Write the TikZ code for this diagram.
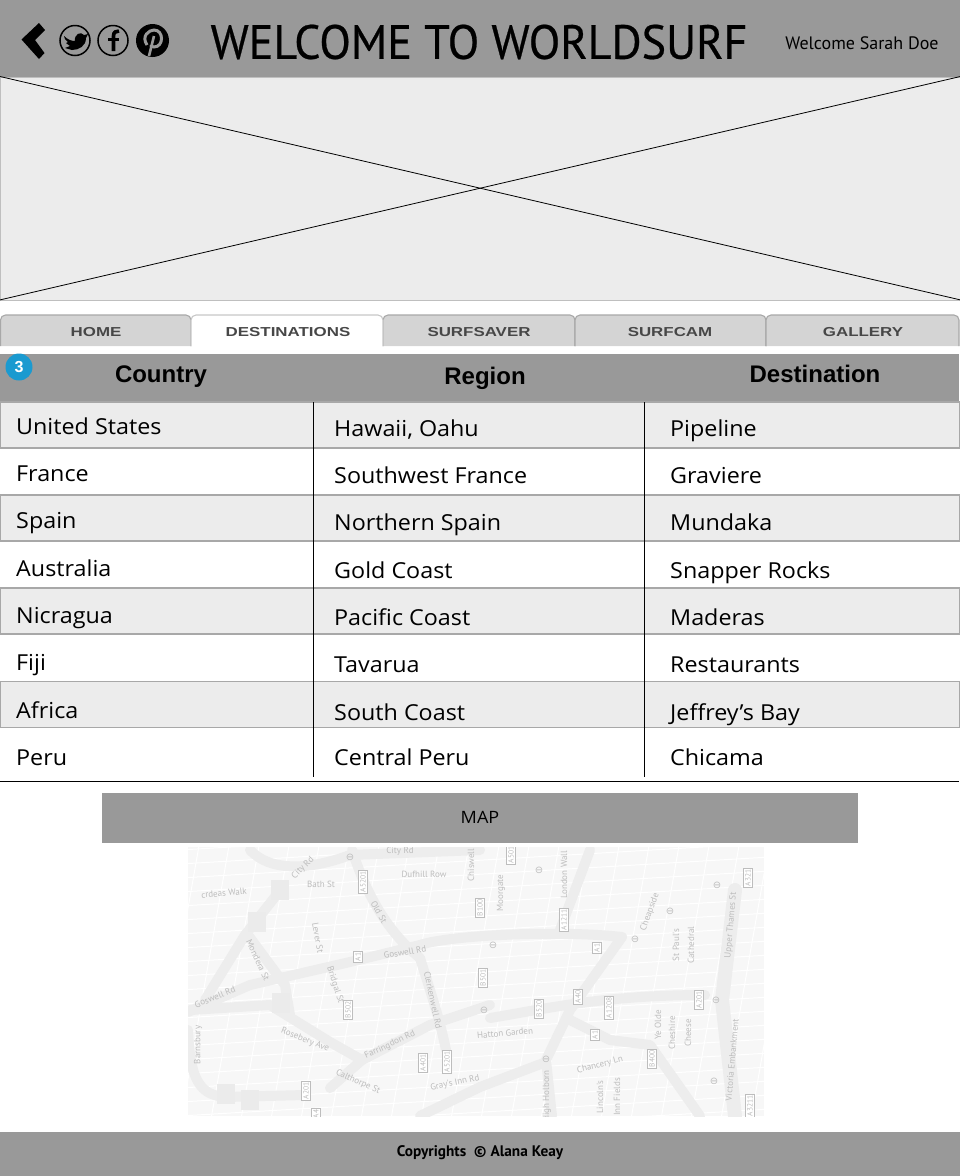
\documentclass[tikz,border=0pt]{standalone}
\usepackage{fontspec}
\setmainfont[FakeStretch=1.06]{Open Sans}
\newfontfamily\titlefont[FakeStretch=.96,FakeBold=.5]{PT Sans}
\newfontfamily\smallfont{PT Sans}
\newfontfamily\headfont{Liberation Sans}
\newfontfamily\tabfont[FakeStretch=1.3]{Liberation Sans}
\newfontfamily\symfont{DejaVu Sans}
\usetikzlibrary{positioning}
\definecolor{bargray}{HTML}{999999}
\definecolor{rowgray}{HTML}{ECECEC}
\definecolor{tabgray}{HTML}{D4D4D4}
\definecolor{edgegray}{HTML}{A8A8A8}
\definecolor{badgeblue}{HTML}{1A9AD0}
\definecolor{mapback}{HTML}{F7F7F7}
\definecolor{maproad}{HTML}{EDEDED}
\definecolor{mapink}{HTML}{BDBDBD}
\tikzset{
  bar/.style={anchor=north west,inner sep=0pt,fill=bargray},
  rowbox/.style={anchor=north west,inner sep=0pt,fill=rowgray,draw=edgegray,line width=1.7pt,minimum width=960pt,minimum height=46pt},
  cell/.style={anchor=base west,inner sep=0pt,font=\fontsize{22}{24}\selectfont},
  headcell/.style={anchor=base,inner sep=0pt,font=\headfont\bfseries\fontsize{24}{26}\selectfont},
  tabshape/.style={fill=tabgray,draw=edgegray,line width=1.1pt},
  tablabel/.style={inner sep=0pt,text=black!72,font=\tabfont\bfseries\fontsize{13}{15}\selectfont},
  iconring/.style={circle,draw=black,line width=1.5pt,minimum size=30pt,inner sep=0pt},
  road/.style={draw=maproad,line width=10pt,line cap=round,line join=round},
  lane/.style={draw=white,line width=1pt},
  maptext/.style={inner sep=0pt,text=mapink,font=\smallfont\fontsize{9}{10}\selectfont},
  mapsign/.style={draw=mapink,fill=white,line width=.8pt,inner sep=1.5pt,rotate=90,text=mapink,font=\smallfont\fontsize{7.5}{8}\selectfont},
  mapblock/.style={fill=black!8,minimum width=18pt,minimum height=20pt,inner sep=0pt},
  maptube/.style={inner sep=0pt,text=mapink,font=\symfont\fontsize{10}{10}\selectfont}
}
\begin{document}
\begin{tikzpicture}[x=1pt,y=-1pt]
  \useasboundingbox (0,0) rectangle (960,1176);
  % header
  \node (topbar) at (0,0) [bar,minimum width=960pt,minimum height=76.5pt] {};
  \node (title) at (479,42) [inner sep=0pt,font=\titlefont\fontsize{48}{50}\selectfont] {WELCOME TO WORLDSURF};
  \node (welcome) at (862,43) [inner sep=0pt,font=\smallfont\fontsize{18}{20}\selectfont] {Welcome Sarah Doe};
  \fill (45,30) -- (39,23) -- (21.5,39.5) -- (39,59) -- (44.5,53) -- (35,40) -- cycle;
  \node (twitter) at (75,40.5) [iconring] {};
  \fill (64,36) .. controls (68,40) and (72,41) .. (75,41) .. controls (74,34) and (81,31) .. (84,35) -- (88,34) -- (86,38) .. controls (86,46) and (79,50) .. (72,50) -- (65,48) -- (70,46) -- (66,43) -- (68,42) -- (65,39) -- cycle;
  \node (facebook) at (113,40.5) [iconring] {};
  \draw [line width=3.6pt] (113.5,51) -- (113.5,36) .. controls (113.5,32) and (116,31) .. (119,31);
  \draw [line width=3pt] (108,39) -- (119,39);
  \node (pinterest) at (152.5,40.5) [circle,fill=black,minimum size=33pt,inner sep=0pt] {};
  \draw [bargray,line width=3pt] (147,45) .. controls (141,36) and (149,30) .. (154,30) .. controls (164,30) and (164,47) .. (154,47) .. controls (152,47) and (151,46) .. (150.5,45);
  \draw [bargray,line width=2.6pt] (154,36) -- (149,56);
  % banner
  \node (banner) at (0,76.5) [anchor=north west,inner sep=0pt,fill=rowgray,draw=black!25,minimum width=960pt,minimum height=223pt] {};
  \draw [line width=.8pt] (banner.north west) -- (banner.south east);
  \draw [line width=.8pt] (banner.north east) -- (banner.south west);
  % tabs
  \draw [tabshape] (.5,346) [rounded corners=5pt] -- (.5,315) -- (191,315) [sharp corners] -- (191,346);
  \draw [tabshape] (383,346) [rounded corners=5pt] -- (383,315) -- (575,315) [sharp corners] -- (575,346);
  \draw [tabshape] (575,346) [rounded corners=5pt] -- (575,315) -- (766,315) [sharp corners] -- (766,346);
  \draw [tabshape] (766,346) [rounded corners=5pt] -- (766,315) -- (959,315) [sharp corners] -- (959,346);
  \draw [tabshape,fill=white,draw=black!22] (191,346) [rounded corners=5pt] -- (191,315) -- (383,315) [sharp corners] -- (383,346);
  \node (home) at (96,332) [tablabel] {HOME};
  \node (destinations) at (288,332) [tablabel] {DESTINATIONS};
  \node (surfsaver) at (479,332) [tablabel] {SURFSAVER};
  \node (surfcam) at (670,332) [tablabel] {SURFCAM};
  \node (gallery) at (863,332) [tablabel] {GALLERY};
  % table
  \node (tablehead) at (0,354) [bar,minimum width=959pt,minimum height=48pt] {};
  \node (badge) at (19,367) [circle,fill=badgeblue,minimum size=27pt,inner sep=0pt,text=white,font=\headfont\bfseries\fontsize{16}{16}\selectfont] {3};
  \node (country) at (161,382) [headcell] {Country};
  \node (region) at (485,384) [headcell] {Region};
  \node (destination) at (815,382) [headcell] {Destination};
  \node (rowa) at (-1,401) [rowbox] {};
  \node (rowb) at (-1,494) [rowbox] {};
  \node (rowc) at (-1,587) [rowbox] {};
  \node (rowd) at (-1,680.5) [rowbox] {};
  \coordinate (splita) at (313,402);
  \coordinate (splitb) at (644,402);
  \coordinate (splitc) at (313,777);
  \coordinate (splitd) at (644,777);
  \draw [line width=1pt] (splita) -- (splitc);
  \draw [line width=1pt] (splitb) -- (splitd);
  \coordinate (rulea) at (0,781.5);
  \coordinate (ruleb) at (959,781.5);
  \draw [line width=1pt] (rulea) -- (ruleb);
  \node (c1) at (16,434) [cell] {United States};
  \node (c2) at (16,481) [cell] {France};
  \node (c3) at (16,528) [cell] {Spain};
  \node (c4) at (16,576) [cell] {Australia};
  \node (c5) at (16,623) [cell] {Nicragua};
  \node (c6) at (16,670) [cell] {Fiji};
  \node (c7) at (16,718) [cell] {Africa};
  \node (c8) at (16,765) [cell] {Peru};
  \node (r1) at (334,436) [cell] {Hawaii, Oahu};
  \node (r2) at (334,483) [cell] {Southwest France};
  \node (r3) at (334,530) [cell] {Northern Spain};
  \node (r4) at (334,578) [cell] {Gold Coast};
  \node (r5) at (334,625) [cell] {Pacific Coast};
  \node (r6) at (334,672) [cell] {Tavarua};
  \node (r7) at (334,720) [cell] {South Coast};
  \node (r8) at (334,765) [cell] {Central Peru};
  \node (d1) at (670,436) [cell] {Pipeline};
  \node (d2) at (670,483) [cell] {Graviere};
  \node (d3) at (670,530) [cell] {Mundaka};
  \node (d4) at (670,578) [cell] {Snapper Rocks};
  \node (d5) at (670,625) [cell] {Maderas};
  \node (d6) at (670,672) [cell] {Restaurants};
  \node (d7) at (670,720) [cell] {Jeffrey's Bay};
  \node (d8) at (670,765) [cell] {Chicama};
  % map
  \node (mapbar) at (102,793) [bar,minimum width=755.5pt,minimum height=49.5pt] {};
  \node (maptitle) at (480,817) [inner sep=0pt,font=\fontsize{17}{19}\selectfont] {MAP};
  \begin{scope}
    \clip (188,847) rectangle (764,1116);
    \fill [mapback] (188,847) rectangle (764,1116);
    \foreach \k in {0,...,22} {
      \draw [lane] (170+\k*30,840) -- (120+\k*30,1125);
      \draw [lane] (180,850+\k*14) -- (770,815+\k*14);
    }
    \draw [road] (250,850) .. controls (270,872) and (310,870) .. (350,855) -- (480,850);
    \draw [road] (352,850) .. controls (365,890) and (385,930) .. (420,958) .. controls (430,990) and (440,1020) .. (446,1050);
    \draw [road] (188,1012) -- (250,985) -- (350,962) -- (420,945) .. controls (450,935) and (560,930) .. (622,937);
    \draw [road] (190,1010) -- (270,1005) -- (330,1042) -- (362,1060);
    \draw [road] (330,1088) -- (362,1060) -- (430,1025) -- (490,1005);
    \draw [road] (188,1030) .. controls (190,1080) and (200,1095) .. (225,1097) -- (305,1095);
    \draw [road] (282,888) -- (245,935) -- (205,1000);
    \draw [road] (248,935) -- (285,985) -- (290,1015);
    \draw [road] (622,937) -- (570,1010) -- (546,1060) -- (552,1116);
    \draw [road] (490,1018) .. controls (540,1010) and (600,995) .. (705,995);
    \draw [road] (590,850) -- (560,930);
    \draw [road,line width=14pt] (735,890) -- (722,1000) -- (735,1116);
    \draw [road] (570,1020) -- (610,1040) -- (650,1045) -- (700,1116);
    \draw [road] (420,1116) -- (480,1087) -- (546,1062);
    \node (blocka) at (280,890) [mapblock] {};
    \node (blockb) at (257,922) [mapblock] {};
    \node (blockc) at (281,1003) [mapblock] {};
    \node (blockd) at (226,1094) [mapblock] {};
    \node (blocke) at (250,1100) [mapblock] {};
    \node (m1) at (400,851) [maptext] {City Rd};
    \node (m2) at (424,874) [maptext] {Dufhill Row};
    \node (m3) at (321,884) [maptext] {Bath St};
    \node (m4) at (224,893) [maptext,rotate=5] {crdeas Walk};
    \node (m5) at (303,868) [maptext,rotate=45] {City Rd};
    \node (m6) at (379,912) [maptext,rotate=-60] {Old St};
    \node (m7) at (318,938) [maptext,rotate=-80] {Lever St};
    \node (m8) at (405,952) [maptext,rotate=10] {Goswell Rd};
    \node (m9) at (215,997) [maptext,rotate=22] {Goswell Rd};
    \node (m10) at (258,960) [maptext,rotate=-65] {Mondera St};
    \node (m11) at (335,985) [maptext,rotate=-72] {Bridgal St};
    \node (m12) at (305,1040) [maptext,rotate=-22] {Rosebery Ave};
    \node (m13) at (390,1045) [maptext,rotate=25] {Farringdon Rd};
    \node (m14) at (433,1000) [maptext,rotate=-78] {Clerkenwell Rd};
    \node (m15) at (505,1033) [maptext,rotate=5] {Hatton Garden};
    \node (m16) at (198,1045) [maptext,rotate=90] {Barnsbury};
    \node (m17) at (600,1065) [maptext,rotate=15] {Chancery Ln};
    \node (m18) at (455,1083) [maptext,rotate=12] {Gray's Inn Rd};
    \node (m19) at (650,912) [maptext,rotate=70] {Cheapside};
    \node (m20) at (676,945) [maptext,rotate=90] {St Paul's};
    \node (m21) at (691,945) [maptext,rotate=90] {Cathedral};
    \node (m22) at (731,925) [maptext,rotate=85] {Upper Thames St};
    \node (m23) at (732,1060) [maptext,rotate=85] {Victoria Embankment};
    \node (m24) at (658,1025) [maptext,rotate=90] {Ye Olde};
    \node (m25) at (672,1033) [maptext,rotate=90] {Cheshire};
    \node (m26) at (688,1033) [maptext,rotate=90] {Cheese};
    \node (m27) at (501,893) [maptext,rotate=90] {Moorgate};
    \node (m28) at (564,875) [maptext,rotate=90] {London Wall};
    \node (m29) at (600,1097) [maptext,rotate=90] {Lincoln's};
    \node (m30) at (617,1097) [maptext,rotate=90] {Inn Fields};
    \node (m31) at (547,1096) [maptext,rotate=90] {High Holborn};
    \node (m32) at (471,860) [maptext,rotate=90] {Chiswell St};
    \node (m33) at (358,1082) [maptext,rotate=-25] {Calthorpe St};
    \node (s1) at (363,882) [mapsign] {A5201};
    \node (s2) at (358,957) [mapsign] {A1};
    \node (s3) at (348,1010) [mapsign] {B502};
    \node (s4) at (423,1063) [mapsign] {A401};
    \node (s5) at (447,1062) [mapsign] {A5201};
    \node (s6) at (306,1091) [mapsign] {A201};
    \node (s7) at (511,855) [mapsign] {A501};
    \node (s8) at (480,908) [mapsign] {B100};
    \node (s9) at (483,978) [mapsign] {B501};
    \node (s10) at (539,1009) [mapsign] {B520};
    \node (s11) at (578,997) [mapsign] {A40};
    \node (s12) at (609,1008) [mapsign] {A1208};
    \node (s13) at (595,1035) [mapsign] {A1};
    \node (s14) at (652,1059) [mapsign] {B400};
    \node (s15) at (699,1000) [mapsign] {A201};
    \node (s16) at (564,920) [mapsign] {A1211};
    \node (s17) at (597,948) [mapsign] {A1};
    \node (s18) at (748,878) [mapsign] {A321};
    \node (s19) at (750,1106) [mapsign] {A3211};
    \node (s20) at (316,1114) [mapsign] {A4};
    \node (t1) at (350,857) [maptube] {⊖};
    \node (t2) at (539,870) [maptube] {⊖};
    \node (t3) at (493,945) [maptube] {⊖};
    \node (t4) at (484,1010) [maptube] {⊖};
    \node (t5) at (635,939) [maptube] {⊖};
    \node (t6) at (670,911) [maptube] {⊖};
    \node (t7) at (717,885) [maptube] {⊖};
    \node (t8) at (716,1000) [maptube] {⊖};
    \node (t9) at (546,1059) [maptube] {⊖};
    \node (t10) at (714,1081) [maptube] {⊖};
  \end{scope}
  % footer
  \node (footer) at (0,1132) [bar,minimum width=960pt,minimum height=44pt] {};
  \node (copyright) at (480,1153) [inner sep=0pt,font=\smallfont\bfseries\fontsize{15.3}{17}\selectfont] {Copyrights\ \ © Alana Keay};
\end{tikzpicture}
\end{document}
